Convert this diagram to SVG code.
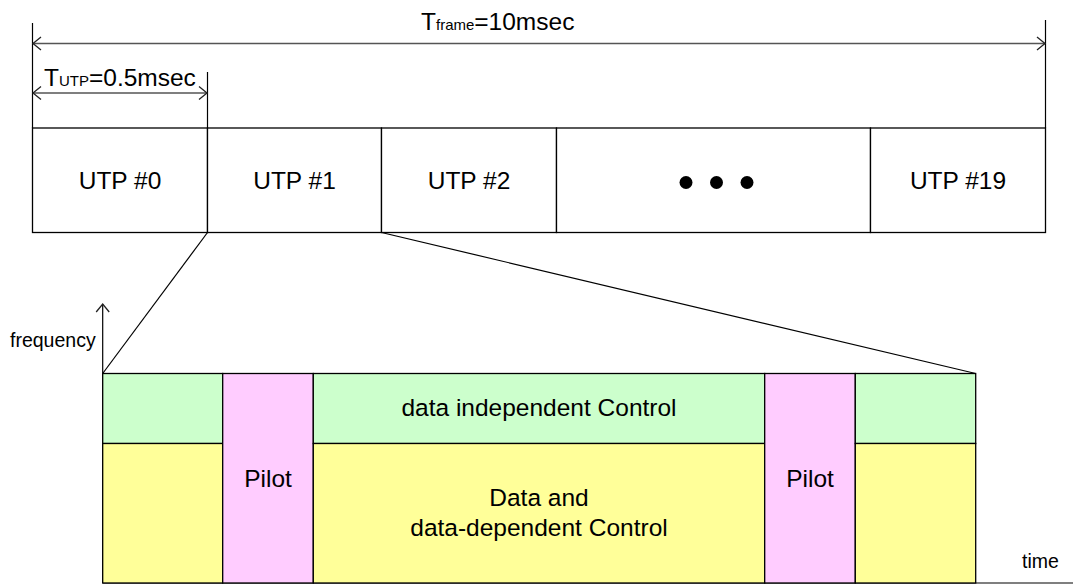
<svg xmlns="http://www.w3.org/2000/svg" width="1073" height="588" viewBox="0 0 1073 588">
  <style>
    .lbl { font-family: "Liberation Sans", Arial, sans-serif; font-size: 24.5px; fill: #000; }
    .sub { font-size: 15px; }
    .small { font-family: "Liberation Sans", Arial, sans-serif; font-size: 19.5px; fill: #000; }
    .box { stroke: #000; stroke-width: 1.3; }
    .edge { fill: none; stroke: #000; stroke-width: 1.2; }
    .dim { fill: none; stroke: #555; stroke-width: 1.4; }
  </style>
  <defs>
    <marker id="chev" viewBox="-10 -8 12 16" markerWidth="12" markerHeight="16" refX="0" refY="0" orient="auto-start-reverse" markerUnits="userSpaceOnUse">
      <path d="M-8,-6.5 L0,0 L-8,6.5" fill="none" stroke="#222" stroke-width="1.3"/>
    </marker>
  </defs>
  <rect width="1073" height="588" fill="#fff"/>

  <!-- dimension lines -->
  <g id="dimensions">
    <line class="edge" x1="32.5" y1="23" x2="32.5" y2="128"/>
    <line class="edge" x1="1045.5" y1="20" x2="1045.5" y2="128"/>
    <line class="edge" x1="207.5" y1="72" x2="207.5" y2="128"/>
    <line class="dim" x1="33" y1="43.5" x2="1045" y2="43.5" marker-start="url(#chev)" marker-end="url(#chev)"/>
    <line class="dim" x1="33" y1="93" x2="207" y2="93" marker-start="url(#chev)" marker-end="url(#chev)"/>
    <text class="lbl" x="421" y="30">T<tspan class="sub">frame</tspan>=10msec</text>
    <text class="lbl" x="44" y="86">T<tspan class="sub">UTP</tspan>=0.5msec</text>
  </g>

  <!-- frame of 20 UTPs -->
  <g id="utp0">
    <rect class="box" x="32.5" y="128" width="175" height="104.5" fill="#fff"/>
    <text class="lbl" x="120" y="188.5" text-anchor="middle">UTP #0</text>
  </g>
  <g id="utp1">
    <rect class="box" x="207.5" y="128" width="174" height="104.5" fill="#fff"/>
    <text class="lbl" x="294.5" y="188.5" text-anchor="middle">UTP #1</text>
  </g>
  <g id="utp2">
    <rect class="box" x="381.5" y="128" width="175" height="104.5" fill="#fff"/>
    <text class="lbl" x="469" y="188.5" text-anchor="middle">UTP #2</text>
  </g>
  <g id="utp-more">
    <rect class="box" x="556.5" y="128" width="314" height="104.5" fill="#fff"/>
    <circle cx="686" cy="182.5" r="6.5" fill="#000"/>
    <circle cx="716.5" cy="182.5" r="6.5" fill="#000"/>
    <circle cx="747" cy="182.5" r="6.5" fill="#000"/>
  </g>
  <g id="utp19">
    <rect class="box" x="870.5" y="128" width="175" height="104.5" fill="#fff"/>
    <text class="lbl" x="958" y="188.5" text-anchor="middle">UTP #19</text>
  </g>

  <!-- expansion lines from UTP #1 to its structure -->
  <g id="connectors">
    <line class="edge" x1="207.5" y1="232.5" x2="102.7" y2="373.5"/>
    <line class="edge" x1="381.5" y1="232.5" x2="975.7" y2="373.5"/>
  </g>

  <!-- axes -->
  <g id="axes">
    <line class="edge" x1="102.7" y1="583" x2="102.7" y2="304" marker-end="url(#chev)"/>
    <line class="dim" x1="102.7" y1="583" x2="1073" y2="583"/>
    <text class="small" x="10" y="346.5">frequency</text>
    <text class="small" x="1022" y="567.5">time</text>
  </g>

  <!-- UTP internal structure -->
  <g id="ctrl-left">
    <rect class="box" x="102.7" y="373.5" width="120" height="70" fill="#CCFFCC"/>
  </g>
  <g id="data-left">
    <rect class="box" x="102.7" y="443.5" width="120" height="139.5" fill="#FFFF99"/>
  </g>
  <g id="pilot-left">
    <rect class="box" x="222.7" y="373.5" width="90.6" height="209.5" fill="#FFCCFF"/>
    <text class="lbl" x="268" y="486.5" text-anchor="middle">Pilot</text>
  </g>
  <g id="ctrl-mid">
    <rect class="box" x="313.3" y="373.5" width="451.4" height="70" fill="#CCFFCC"/>
    <text class="lbl" x="539" y="415.5" text-anchor="middle">data independent Control</text>
  </g>
  <g id="data-mid">
    <rect class="box" x="313.3" y="443.5" width="451.4" height="139.5" fill="#FFFF99"/>
    <text class="lbl" x="539" y="505.5" text-anchor="middle">Data and</text>
    <text class="lbl" x="539" y="535.5" text-anchor="middle">data-dependent Control</text>
  </g>
  <g id="pilot-right">
    <rect class="box" x="764.7" y="373.5" width="90.6" height="209.5" fill="#FFCCFF"/>
    <text class="lbl" x="810" y="486.5" text-anchor="middle">Pilot</text>
  </g>
  <g id="ctrl-right">
    <rect class="box" x="855.3" y="373.5" width="120.4" height="70" fill="#CCFFCC"/>
  </g>
  <g id="data-right">
    <rect class="box" x="855.3" y="443.5" width="120.4" height="139.5" fill="#FFFF99"/>
  </g>
</svg>
